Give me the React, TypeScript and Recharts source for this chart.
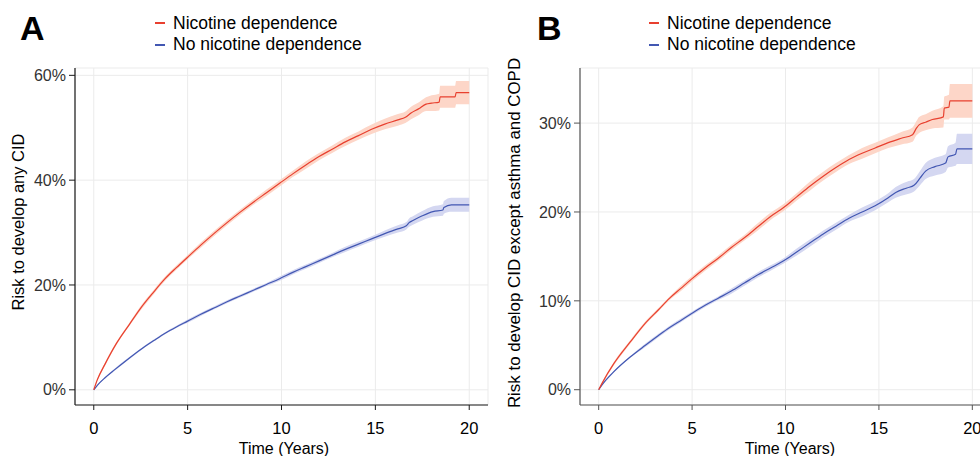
import React from "react";
import {
  ComposedChart,
  Line,
  Area,
  XAxis,
  YAxis,
  CartesianGrid,
} from "recharts";

// Panel A: risk to develop any CID (%)
const timesA_nd = [0, 0.2, 0.6, 1.2, 1.9, 2.5, 3.2, 3.8, 4.4, 5.0, 5.7, 6.4, 7.1, 7.8, 8.5, 9.2, 9.9, 10.6, 11.3, 12.0, 12.7, 13.4, 14.1, 14.8, 15.5, 16.2, 16.6, 16.9, 17.3, 17.7, 18.0, 18.4, 18.45, 19.25, 19.3, 20.0];
const riskA_nd = [0, 2.0, 4.9, 8.8, 12.5, 15.6, 18.7, 21.2, 23.3, 25.3, 27.6, 29.8, 31.9, 33.9, 35.8, 37.6, 39.4, 41.2, 42.9, 44.5, 45.9, 47.3, 48.5, 49.7, 50.7, 51.5, 52.0, 52.8, 53.6, 54.5, 54.7, 54.9, 55.9, 55.9, 56.7, 56.7];
const ciA_nd = [0, 0.2, 0.3, 0.3, 0.3, 0.4, 0.4, 0.4, 0.4, 0.4, 0.5, 0.5, 0.5, 0.5, 0.5, 0.6, 0.6, 0.6, 0.7, 0.7, 0.7, 0.8, 0.8, 0.9, 1.0, 1.1, 1.1, 1.2, 1.2, 1.3, 1.5, 1.6, 2.1, 2.1, 2.2, 2.2];

const timesA_no = [0, 0.2, 0.6, 1.1, 1.8, 2.5, 3.2, 3.8, 4.4, 5.0, 5.7, 6.4, 7.1, 7.8, 8.5, 9.2, 9.9, 10.6, 11.3, 12.0, 12.7, 13.4, 14.1, 14.8, 15.5, 16.2, 16.65, 16.8, 17.0, 17.5, 18.07, 18.6, 18.65, 19.05, 20.0];
const riskA_no = [0, 0.9, 2.3, 3.8, 5.8, 7.7, 9.4, 10.8, 12.0, 13.1, 14.4, 15.6, 16.8, 17.9, 19.0, 20.1, 21.2, 22.4, 23.5, 24.6, 25.7, 26.8, 27.8, 28.8, 29.8, 30.7, 31.3, 31.9, 32.3, 33.2, 34.0, 34.3, 34.8, 35.3, 35.3];
const ciA_no = [0, 0.1, 0.1, 0.2, 0.2, 0.2, 0.2, 0.2, 0.2, 0.3, 0.3, 0.3, 0.3, 0.3, 0.3, 0.3, 0.4, 0.4, 0.4, 0.4, 0.4, 0.5, 0.5, 0.5, 0.6, 0.7, 0.7, 0.8, 0.8, 0.9, 1.0, 1.1, 1.2, 1.35, 1.35];

// Panel B: risk to develop CID except asthma and COPD (%)
const timesB_nd = [0, 0.2, 0.8, 1.7, 2.5, 3.2, 3.8, 4.4, 5.0, 5.7, 6.4, 7.1, 7.8, 8.5, 9.2, 9.9, 10.6, 11.3, 12.0, 12.7, 13.4, 14.1, 14.8, 15.5, 16.2, 16.8, 17.0, 17.15, 17.5, 17.86, 18.45, 18.5, 18.75, 18.8, 20.0];
const riskB_nd = [0, 0.8, 2.9, 5.4, 7.5, 9.0, 10.3, 11.4, 12.5, 13.7, 14.8, 16.0, 17.1, 18.3, 19.5, 20.5, 21.7, 22.9, 24.0, 25.0, 25.9, 26.6, 27.2, 27.8, 28.3, 28.7, 29.4, 29.8, 30.1, 30.4, 30.7, 31.7, 31.8, 32.5, 32.5];
const ciB_nd = [0, 0.1, 0.2, 0.2, 0.2, 0.2, 0.2, 0.3, 0.3, 0.3, 0.3, 0.3, 0.3, 0.4, 0.4, 0.4, 0.4, 0.5, 0.5, 0.5, 0.5, 0.6, 0.6, 0.6, 0.7, 0.8, 0.8, 0.9, 0.9, 1.0, 1.2, 1.3, 1.4, 1.9, 1.9];

const timesB_no = [0, 0.2, 0.8, 1.7, 2.5, 3.2, 3.8, 4.4, 5.0, 5.7, 6.4, 7.1, 7.8, 8.5, 9.2, 9.9, 10.6, 11.3, 12.0, 12.7, 13.4, 14.1, 14.8, 15.5, 15.9, 16.5, 16.88, 17.2, 17.5, 18.0, 18.57, 18.7, 19.1, 19.18, 20.0];
const riskB_no = [0, 0.6, 2.0, 3.7, 5.0, 6.1, 7.0, 7.8, 8.6, 9.5, 10.3, 11.1, 12.0, 12.9, 13.7, 14.5, 15.5, 16.5, 17.5, 18.4, 19.3, 20.0, 20.7, 21.6, 22.2, 22.7, 23.0, 23.8, 24.6, 25.1, 25.5, 26.2, 26.5, 27.1, 27.1];
const ciB_no = [0, 0.1, 0.1, 0.1, 0.2, 0.2, 0.2, 0.2, 0.2, 0.2, 0.2, 0.3, 0.3, 0.3, 0.3, 0.3, 0.4, 0.4, 0.4, 0.4, 0.4, 0.5, 0.5, 0.5, 0.6, 0.7, 0.7, 0.8, 0.9, 1.0, 1.0, 1.2, 1.3, 1.7, 1.7];

const xTicks = [0, 5, 10, 15, 20];
const yTicksA = [0, 20, 40, 60];
const yTicksB = [0, 10, 20, 30];

const RED = "#E8402F";
const BLUE = "#4257B2";
const RED_BAND = "#FDD6C8";
const BLUE_BAND = "#D4D7F1";

const FONT = "'Liberation Sans', Arial, sans-serif";

function rows(times: number[], risk: number[], ci: number[]) {
  return times.map((t, i) => ({
    t,
    risk: risk[i],
    band: [risk[i] - ci[i], risk[i] + ci[i]],
  }));
}

type PanelProps = {
  left: number;
  width: number;
  axisWidth: number;
  yDomain: [number, number];
  yTicks: number[];
  axisColor: string;
  nd: ReturnType<typeof rows>;
  no: ReturnType<typeof rows>;
};

function Panel({ left, width, axisWidth, yDomain, yTicks, axisColor, nd, no }: PanelProps) {
  return (
    <div style={{ position: "absolute", left, top: 0 }}>
      <ComposedChart
        width={width}
        height={456}
        margin={{ top: 68, right: 2, bottom: 0, left: 0 }}
      >
        <CartesianGrid stroke="#EBEBEB" />
        <XAxis
          dataKey="t"
          type="number"
          domain={[-1, 21]}
          ticks={xTicks}
          allowDuplicatedCategory={false}
          height={51}
          tickSize={5}
          tickMargin={12}
          axisLine={{ stroke: axisColor, strokeWidth: 1.2 }}
          tickLine={{ stroke: axisColor }}
          tick={{ fill: "#000", fontSize: 16.5, fontFamily: FONT }}
        />
        <YAxis
          type="number"
          domain={yDomain}
          ticks={yTicks}
          allowDataOverflow
          width={axisWidth}
          tickSize={6}
          tickMargin={3}
          tickFormatter={(v: number) => `${v}%`}
          axisLine={{ stroke: axisColor, strokeWidth: 1.2 }}
          tickLine={{ stroke: axisColor }}
          tick={{ fill: "#333", fontSize: 16, fontFamily: FONT }}
        />
        <Area
          data={no}
          dataKey="band"
          type="monotone"
          stroke="none"
          fill={BLUE_BAND}
          fillOpacity={1}
          isAnimationActive={false}
        />
        <Area
          data={nd}
          dataKey="band"
          type="monotone"
          stroke="none"
          fill={RED_BAND}
          fillOpacity={1}
          isAnimationActive={false}
        />
        <Line
          data={no}
          dataKey="risk"
          type="monotone"
          stroke={BLUE}
          strokeWidth={1.2}
          dot={false}
          isAnimationActive={false}
        />
        <Line
          data={nd}
          dataKey="risk"
          type="monotone"
          stroke={RED}
          strokeWidth={1.2}
          dot={false}
          isAnimationActive={false}
        />
      </ComposedChart>
    </div>
  );
}

function Legend({ left }: { left: number }) {
  const items = [
    { label: "Nicotine dependence", color: RED, top: 14.5 },
    { label: "No nicotine dependence", color: BLUE, top: 36 },
  ];
  return (
    <>
      {items.map((it) => (
        <div
          key={it.label}
          style={{
            position: "absolute",
            left,
            top: it.top,
            height: 17.5,
            display: "flex",
            alignItems: "center",
            fontSize: 17.5,
            lineHeight: "17.5px",
            whiteSpace: "nowrap",
            color: "#000",
          }}
        >
          <span
            style={{
              display: "inline-block",
              width: 10,
              height: 1.6,
              background: it.color,
              marginRight: 8,
            }}
          />
          {it.label}
        </div>
      ))}
    </>
  );
}

export default function App() {
  const aNd = rows(timesA_nd, riskA_nd, ciA_nd);
  const aNo = rows(timesA_no, riskA_no, ciA_no);
  const bNd = rows(timesB_nd, riskB_nd, ciB_nd);
  const bNo = rows(timesB_no, riskB_no, ciB_no);

  const rotated = (x: number, y: number, size: number): React.CSSProperties => ({
    position: "absolute",
    left: x,
    top: y,
    transform: "translate(-50%, -50%) rotate(-90deg)",
    fontSize: size,
    lineHeight: 1,
    whiteSpace: "nowrap",
    color: "#000",
  });

  return (
    <div
      style={{
        position: "fixed",
        left: 0,
        top: 0,
        width: 980,
        height: 456,
        overflow: "hidden",
        background: "#fff",
        fontFamily: FONT,
      }}
    >
      <Panel
        left={0}
        width={490}
        axisWidth={75}
        yDomain={[-2.9, 61.4]}
        yTicks={yTicksA}
        axisColor="#1a1a1a"
        nd={aNd}
        no={aNo}
      />
      <Panel
        left={490}
        width={503}
        axisWidth={90}
        yDomain={[-1.72, 36.2]}
        yTicks={yTicksB}
        axisColor="#555"
        nd={bNd}
        no={bNo}
      />

      <div style={{ position: "absolute", left: 20, top: 10.6, fontSize: 34, fontWeight: "bold", lineHeight: "34px" }}>A</div>
      <div style={{ position: "absolute", left: 537, top: 10.6, fontSize: 34, fontWeight: "bold", lineHeight: "34px" }}>B</div>

      <Legend left={155} />
      <Legend left={649} />

      <div style={rotated(18, 222, 16.5)}>Risk to develop any CID</div>
      <div style={rotated(515, 233, 16.9)}>Risk to develop CID except asthma and COPD</div>

      <div style={{ position: "absolute", left: 284, top: 441, transform: "translateX(-50%)", fontSize: 16, lineHeight: "16px", whiteSpace: "nowrap" }}>Time (Years)</div>
      <div style={{ position: "absolute", left: 790, top: 441, transform: "translateX(-50%)", fontSize: 16, lineHeight: "16px", whiteSpace: "nowrap" }}>Time (Years)</div>
    </div>
  );
}
